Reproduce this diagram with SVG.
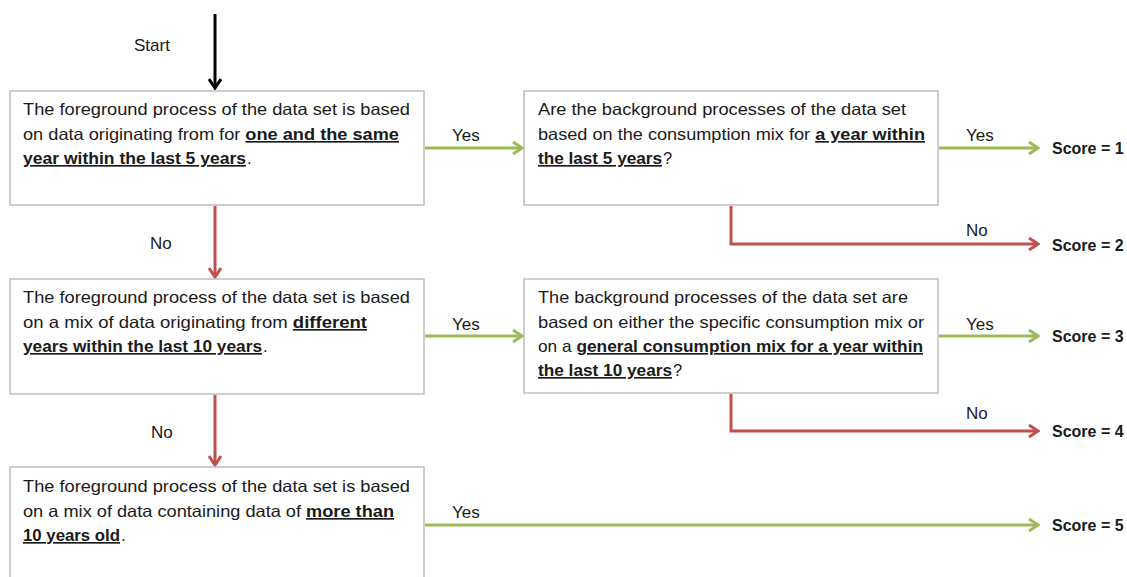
<svg xmlns="http://www.w3.org/2000/svg" width="1127" height="577" viewBox="0 0 1127 577">
  <style>
    .box { fill: #ffffff; stroke: #bfbfbf; stroke-width: 1.5; }
    .t { font-family: "Liberation Sans", Arial, sans-serif; font-size: 16.5px; fill: #1a1a1a; }
    .u { font-weight: bold; text-decoration: underline; }
    .lbl { font-family: "Liberation Sans", Arial, sans-serif; font-size: 17px; fill: #1a1a1a; }
    .score { font-family: "Liberation Sans", Arial, sans-serif; font-size: 16px; font-weight: bold; fill: #1a1a1a; }
    .yes { fill: none; stroke: #9bbb59; stroke-width: 3; }
    .no { fill: none; stroke: #c0504d; stroke-width: 3; }
    .start { fill: none; stroke: #000000; stroke-width: 3; }
  </style>
  <defs>
    <marker id="headG" viewBox="0 0 14 14" refX="12" refY="7" markerWidth="14" markerHeight="14" markerUnits="userSpaceOnUse" orient="auto">
      <path d="M3,1 L12,7 L3,13" fill="none" stroke="#9bbb59" stroke-width="3"/>
    </marker>
    <marker id="headR" viewBox="0 0 14 14" refX="12" refY="7" markerWidth="14" markerHeight="14" markerUnits="userSpaceOnUse" orient="auto">
      <path d="M3,1 L12,7 L3,13" fill="none" stroke="#c0504d" stroke-width="3"/>
    </marker>
    <marker id="headK" viewBox="0 0 14 14" refX="12" refY="7" markerWidth="14" markerHeight="14" markerUnits="userSpaceOnUse" orient="auto">
      <path d="M3,1 L12,7 L3,13" fill="none" stroke="#000000" stroke-width="3"/>
    </marker>
  </defs>

  <rect width="1127" height="577" fill="#ffffff"/>

  <!-- connectors -->
  <g id="connectors">
    <path class="start" d="M215,14 V88" marker-end="url(#headK)"/>
    <path class="no" d="M215,206 V277" marker-end="url(#headR)"/>
    <path class="no" d="M215,395 V465" marker-end="url(#headR)"/>
    <path class="yes" d="M425,148 H522" marker-end="url(#headG)"/>
    <path class="yes" d="M939,148 H1038" marker-end="url(#headG)"/>
    <path class="no" d="M731,206 V244 H1038" marker-end="url(#headR)"/>
    <path class="yes" d="M425,336 H522" marker-end="url(#headG)"/>
    <path class="yes" d="M939,336 H1038" marker-end="url(#headG)"/>
    <path class="no" d="M731,394 V431 H1038" marker-end="url(#headR)"/>
    <path class="yes" d="M425,525 H1038" marker-end="url(#headG)"/>

    <text class="lbl" x="134" y="51">Start</text>
    <text class="lbl" x="150" y="249">No</text>
    <text class="lbl" x="151" y="438">No</text>
    <text class="lbl" x="452" y="141">Yes</text>
    <text class="lbl" x="966" y="141">Yes</text>
    <text class="lbl" x="966" y="236">No</text>
    <text class="lbl" x="452" y="330">Yes</text>
    <text class="lbl" x="966" y="330">Yes</text>
    <text class="lbl" x="966" y="419">No</text>
    <text class="lbl" x="452" y="518">Yes</text>
  </g>

  <!-- foreground question: same year within 5 years -->
  <g id="fg5">
    <rect class="box" x="10" y="91" width="414" height="114"/>
    <text class="t" x="23" y="115" textLength="387" lengthAdjust="spacingAndGlyphs">The foreground process of the data set is based</text>
    <text class="t" x="23" y="140" textLength="376" lengthAdjust="spacingAndGlyphs">on data originating from for <tspan class="u">one and the same</tspan></text>
    <text class="t u" x="23" y="164" textLength="223" lengthAdjust="spacingAndGlyphs">year within the last 5 years</text>
    <text class="t" x="247" y="164">.</text>
  </g>

  <!-- background question: 5 years -->
  <g id="bg5">
    <rect class="box" x="524" y="91" width="414" height="114"/>
    <text class="t" x="538" y="115" textLength="368" lengthAdjust="spacingAndGlyphs">Are the background processes of the data set</text>
    <text class="t" x="538" y="140" textLength="387" lengthAdjust="spacingAndGlyphs">based on the consumption mix for <tspan class="u">a year within</tspan></text>
    <text class="t u" x="538" y="164" textLength="124" lengthAdjust="spacingAndGlyphs">the last 5 years</text>
    <text class="t" x="663" y="164">?</text>
  </g>

  <!-- foreground question: different years within 10 years -->
  <g id="fg10">
    <rect class="box" x="10" y="279" width="414" height="115"/>
    <text class="t" x="23" y="303" textLength="387" lengthAdjust="spacingAndGlyphs">The foreground process of the data set is based</text>
    <text class="t" x="23" y="328" textLength="344" lengthAdjust="spacingAndGlyphs">on a mix of data originating from <tspan class="u">different</tspan></text>
    <text class="t u" x="23" y="352" textLength="239" lengthAdjust="spacingAndGlyphs">years within the last 10 years</text>
    <text class="t" x="263" y="352">.</text>
  </g>

  <!-- background question: 10 years -->
  <g id="bg10">
    <rect class="box" x="524" y="279" width="414" height="114"/>
    <text class="t" x="538" y="303" textLength="370" lengthAdjust="spacingAndGlyphs">The background processes of the data set are</text>
    <text class="t" x="538" y="328" textLength="386" lengthAdjust="spacingAndGlyphs">based on either the specific consumption mix or</text>
    <text class="t" x="538" y="352" textLength="385" lengthAdjust="spacingAndGlyphs">on a <tspan class="u">general consumption mix for a year within</tspan></text>
    <text class="t u" x="538" y="376" textLength="134" lengthAdjust="spacingAndGlyphs">the last 10 years</text>
    <text class="t" x="673" y="376">?</text>
  </g>

  <!-- foreground question: older than 10 years -->
  <g id="fgOld">
    <rect class="box" x="10" y="467" width="414" height="120"/>
    <text class="t" x="23" y="492" textLength="387" lengthAdjust="spacingAndGlyphs">The foreground process of the data set is based</text>
    <text class="t" x="23" y="517" textLength="371" lengthAdjust="spacingAndGlyphs">on a mix of data containing data of <tspan class="u">more than</tspan></text>
    <text class="t u" x="23" y="541" textLength="97" lengthAdjust="spacingAndGlyphs">10 years old</text>
    <text class="t" x="121" y="541">.</text>
  </g>

  <!-- scores -->
  <g id="score1"><text class="score" x="1052" y="154">Score = 1</text></g>
  <g id="score2"><text class="score" x="1052" y="251">Score = 2</text></g>
  <g id="score3"><text class="score" x="1052" y="342">Score = 3</text></g>
  <g id="score4"><text class="score" x="1052" y="437">Score = 4</text></g>
  <g id="score5"><text class="score" x="1052" y="531">Score = 5</text></g>
</svg>
